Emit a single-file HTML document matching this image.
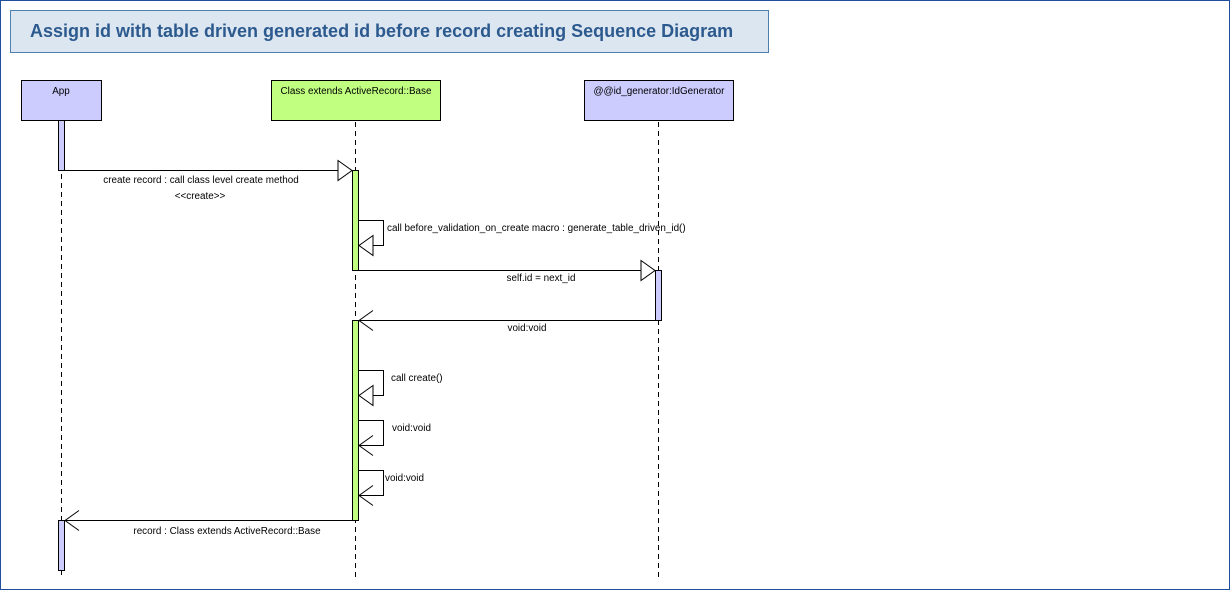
<!DOCTYPE html>
<html><head><meta charset="utf-8"><style>
html,body{margin:0;padding:0;background:#fff}
svg{display:block}
text{font-family:"Liberation Sans",sans-serif;font-size:9.9px;fill:#000}
</style></head><body>
<svg width="1230" height="590" viewBox="0 0 1230 590" xmlns="http://www.w3.org/2000/svg">
<rect x="0.5" y="0.5" width="1229" height="589" fill="#fff" stroke="#1f4e9a" stroke-width="1"/>
<rect x="10.5" y="10.5" width="758" height="42" fill="#dce6f1" stroke="#4f7fae"/>
<text x="30" y="37" style="font-size:18px;font-weight:bold;fill:#2d5a8e">Assign id with table driven generated id before record creating Sequence Diagram</text>

<rect x="21.5" y="80.5" width="80" height="40" fill="#ccccff" stroke="#000"/>
<text x="61" y="94" text-anchor="middle">App</text>
<rect x="271.5" y="80.5" width="169" height="40" fill="#c0ff80" stroke="#000"/>
<text x="356" y="94" text-anchor="middle">Class extends ActiveRecord::Base</text>
<rect x="584.5" y="80.5" width="149" height="40" fill="#ccccff" stroke="#000"/>
<text x="659" y="94" text-anchor="middle">@@id_generator:IdGenerator</text>

<g stroke="#000" stroke-dasharray="5,4" stroke-width="1">
<line x1="61.5" y1="120" x2="61.5" y2="575"/>
<line x1="355.5" y1="122" x2="355.5" y2="577"/>
<line x1="658.5" y1="122" x2="658.5" y2="577"/>
</g>

<rect x="58.5" y="120.5" width="6" height="50" fill="#ccccff" stroke="#000"/>
<rect x="58.5" y="520.5" width="6" height="50" fill="#ccccff" stroke="#000"/>
<rect x="352.5" y="170.5" width="6" height="100" fill="#c0ff80" stroke="#000"/>
<rect x="352.5" y="320.5" width="6" height="200" fill="#c0ff80" stroke="#000"/>
<rect x="655.5" y="270.5" width="6" height="50" fill="#ccccff" stroke="#000"/>

<g stroke="#000" fill="none" stroke-width="1">
<line x1="64" y1="170.5" x2="338" y2="170.5"/>
<polygon points="338,160.5 352,170.5 338,180.5" fill="#fff"/>
<polyline points="358,220.5 383.5,220.5 383.5,245.5 373,245.5"/>
<polygon points="373,235.5 359,245.5 373,255.5" fill="#fff"/>
<line x1="358" y1="270.5" x2="641" y2="270.5"/>
<polygon points="641,260.5 655,270.5 641,280.5" fill="#fff"/>
<line x1="655" y1="320.5" x2="359" y2="320.5"/>
<polyline points="373,310.5 359,320.5 373,330.5"/>
<polyline points="358,370.5 383.5,370.5 383.5,395.5 373,395.5"/>
<polygon points="373,385.5 359,395.5 373,405.5" fill="#fff"/>
<polyline points="358,420.5 383.5,420.5 383.5,445.5 359,445.5"/>
<polyline points="373,435.5 359,445.5 373,455.5"/>
<polyline points="358,470.5 383.5,470.5 383.5,495.5 359,495.5"/>
<polyline points="373,485.5 359,495.5 373,505.5"/>
<line x1="352" y1="520.5" x2="65" y2="520.5"/>
<polyline points="79,510.5 65,520.5 79,530.5"/>
</g>

<text x="201" y="183" text-anchor="middle">create record : call class level create method</text>
<text x="200" y="199" text-anchor="middle">&lt;&lt;create&gt;&gt;</text>
<text x="387" y="231">call before_validation_on_create macro : generate_table_driven_id()</text>
<text x="541" y="281" text-anchor="middle">self.id = next_id</text>
<text x="527" y="331" text-anchor="middle">void:void</text>
<text x="391" y="381">call create()</text>
<text x="392" y="431">void:void</text>
<text x="385" y="481">void:void</text>
<text x="227" y="534" text-anchor="middle">record : Class extends ActiveRecord::Base</text>
</svg>
</body></html>
